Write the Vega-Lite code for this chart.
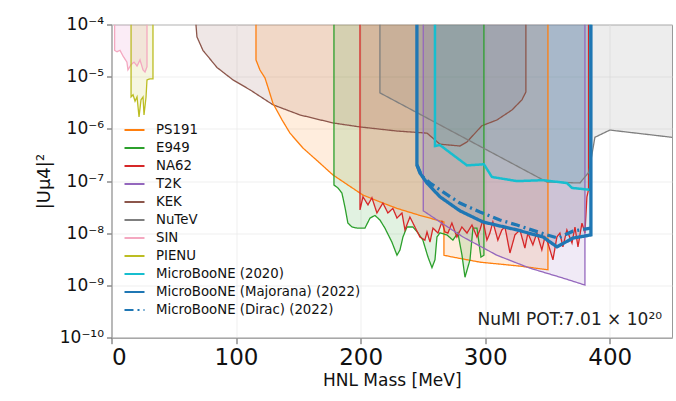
{
  "$schema": "https://vega.github.io/schema/vega-lite/v6.json",
  "width": 560.5,
  "height": 313.2,
  "autosize": {"type": "none"},
  "padding": {"left": 111.5, "top": 24.5, "right": 4, "bottom": 63.3},
  "background": "white",
  "config": {
    "font": "DejaVu Sans",
    "view": {"stroke": "#999999", "strokeWidth": 1},
    "axis": {"domainColor": "#999999", "tickColor": "#555555", "gridColor": "#ebebeb", "gridWidth": 0.8, "labelColor": "#111111", "titleColor": "#111111", "labelFont": "DejaVu Sans", "titleFont": "DejaVu Sans", "titleFontWeight": "normal"}
  },
  "datasets": {"curves": [
    {"exp":"SIN","i":0,"m":2.5,"u":1e-4},{"exp":"SIN","i":1,"m":2.5,"u":3.2e-5},{"exp":"SIN","i":2,"m":4.4,"u":3.0e-5},{"exp":"SIN","i":3,"m":6.8,"u":3.2e-5},{"exp":"SIN","i":4,"m":9.2,"u":2.5e-5},{"exp":"SIN","i":5,"m":12.4,"u":1.9e-5},{"exp":"SIN","i":6,"m":13.2,"u":1.35e-5},{"exp":"SIN","i":7,"m":15.7,"u":1.7e-5},{"exp":"SIN","i":8,"m":18.1,"u":1.9e-5},{"exp":"SIN","i":9,"m":20.5,"u":1.6e-5},{"exp":"SIN","i":10,"m":22.9,"u":2.1e-5},{"exp":"SIN","i":11,"m":25.3,"u":1.35e-5},{"exp":"SIN","i":12,"m":26.9,"u":1.23e-5},{"exp":"SIN","i":13,"m":28.5,"u":1.55e-5},{"exp":"SIN","i":14,"m":28.5,"u":1e-4},
    {"exp":"PIENU","i":0,"m":15.7,"u":1e-4},{"exp":"PIENU","i":1,"m":15.7,"u":4.1e-6},{"exp":"PIENU","i":2,"m":17.3,"u":4.5e-6},{"exp":"PIENU","i":3,"m":18.9,"u":3.4e-6},{"exp":"PIENU","i":4,"m":20.5,"u":4.1e-6},{"exp":"PIENU","i":5,"m":22.1,"u":1.7e-6},{"exp":"PIENU","i":6,"m":23.7,"u":3.6e-6},{"exp":"PIENU","i":7,"m":25.3,"u":4.1e-6},{"exp":"PIENU","i":8,"m":26.1,"u":1.85e-6},{"exp":"PIENU","i":9,"m":27.7,"u":4.0e-6},{"exp":"PIENU","i":10,"m":28.5,"u":8.7e-6},{"exp":"PIENU","i":11,"m":30.9,"u":9.1e-6},{"exp":"PIENU","i":12,"m":33.3,"u":9.1e-6},{"exp":"PIENU","i":13,"m":33.3,"u":1e-4},
    {"exp":"KEK","i":0,"m":67.8,"u":1e-4},{"exp":"KEK","i":1,"m":68.6,"u":5.8e-5},{"exp":"KEK","i":2,"m":73.4,"u":3.2e-5},{"exp":"KEK","i":3,"m":84.7,"u":1.5e-5},{"exp":"KEK","i":4,"m":97.5,"u":8.7e-6},{"exp":"KEK","i":5,"m":111.2,"u":5.6e-6},{"exp":"KEK","i":6,"m":129.6,"u":2.9e-6},{"exp":"KEK","i":7,"m":151.3,"u":1.85e-6},{"exp":"KEK","i":8,"m":177.8,"u":1.3e-6},{"exp":"KEK","i":9,"m":199.5,"u":1.09e-6},{"exp":"KEK","i":10,"m":229.2,"u":9.1e-7},{"exp":"KEK","i":11,"m":253.3,"u":8.3e-7},{"exp":"KEK","i":12,"m":263.7,"u":5.1e-7},{"exp":"KEK","i":13,"m":279.7,"u":4.7e-7},{"exp":"KEK","i":14,"m":285.3,"u":5.6e-7},{"exp":"KEK","i":15,"m":297.4,"u":1.15e-6},{"exp":"KEK","i":16,"m":309.4,"u":1.48e-6},{"exp":"KEK","i":17,"m":321.5,"u":2.3e-6},{"exp":"KEK","i":18,"m":329.5,"u":3.6e-6},{"exp":"KEK","i":19,"m":332.7,"u":5.1e-6},{"exp":"KEK","i":20,"m":332.7,"u":1e-4},
    {"exp":"PS191","i":0,"m":116,"u":1e-4},{"exp":"PS191","i":1,"m":116,"u":2.1e-5},{"exp":"PS191","i":2,"m":119.2,"u":1.34e-5},{"exp":"PS191","i":3,"m":123.2,"u":9.5e-6},{"exp":"PS191","i":4,"m":125.6,"u":6.3e-6},{"exp":"PS191","i":5,"m":129.6,"u":3.1e-6},{"exp":"PS191","i":6,"m":136.9,"u":1.49e-6},{"exp":"PS191","i":7,"m":143.3,"u":8.3e-7},{"exp":"PS191","i":8,"m":153.7,"u":4.3e-7},{"exp":"PS191","i":9,"m":167.4,"u":2.2e-7},{"exp":"PS191","i":10,"m":177.8,"u":1.31e-7},{"exp":"PS191","i":11,"m":201.9,"u":5.4e-8},{"exp":"PS191","i":12,"m":215.5,"u":4.0e-8},{"exp":"PS191","i":13,"m":229.2,"u":3.0e-8},{"exp":"PS191","i":14,"m":247.6,"u":2.2e-8},{"exp":"PS191","i":15,"m":266.9,"u":1.65e-8},{"exp":"PS191","i":16,"m":266.9,"u":3.8e-9},{"exp":"PS191","i":17,"m":274.1,"u":3.5e-9},{"exp":"PS191","i":18,"m":295.8,"u":2.8e-9},{"exp":"PS191","i":19,"m":327.9,"u":2.35e-9},{"exp":"PS191","i":20,"m":350.4,"u":2.0e-9},{"exp":"PS191","i":21,"m":350.4,"u":1e-4},
    {"exp":"E949","i":0,"m":178.6,"u":1e-4},{"exp":"E949","i":1,"m":178.6,"u":8.4e-8},{"exp":"E949","i":2,"m":181.8,"u":7.4e-8},{"exp":"E949","i":3,"m":185.0,"u":5.9e-8},{"exp":"E949","i":4,"m":187.4,"u":3.2e-8},{"exp":"E949","i":5,"m":189.8,"u":1.57e-8},{"exp":"E949","i":6,"m":193.1,"u":1.32e-8},{"exp":"E949","i":7,"m":197.1,"u":1.26e-8},{"exp":"E949","i":8,"m":203.5,"u":1.26e-8},{"exp":"E949","i":9,"m":207.5,"u":1.95e-8},{"exp":"E949","i":10,"m":211.5,"u":2.2e-8},{"exp":"E949","i":11,"m":215.5,"u":1.8e-8},{"exp":"E949","i":12,"m":219.5,"u":1.26e-8},{"exp":"E949","i":13,"m":225.1,"u":6.8e-9},{"exp":"E949","i":14,"m":229.2,"u":3.8e-9},{"exp":"E949","i":15,"m":231.6,"u":4.8e-9},{"exp":"E949","i":16,"m":234.0,"u":8.5e-9},{"exp":"E949","i":17,"m":237.2,"u":1.32e-8},{"exp":"E949","i":18,"m":242.0,"u":1.32e-8},{"exp":"E949","i":19,"m":246.0,"u":1.02e-8},{"exp":"E949","i":20,"m":250.0,"u":7.4e-9},{"exp":"E949","i":21,"m":254.1,"u":3.5e-9},{"exp":"E949","i":22,"m":257.3,"u":2.2e-9},{"exp":"E949","i":23,"m":259.7,"u":3.1e-9},{"exp":"E949","i":24,"m":261.3,"u":8.5e-9},{"exp":"E949","i":25,"m":263.7,"u":1.02e-8},{"exp":"E949","i":26,"m":269.3,"u":9.3e-9},{"exp":"E949","i":27,"m":274.1,"u":7.4e-9},{"exp":"E949","i":28,"m":278.1,"u":1.02e-8},{"exp":"E949","i":29,"m":281.4,"u":3.8e-9},{"exp":"E949","i":30,"m":283.8,"u":1.44e-9},{"exp":"E949","i":31,"m":287.8,"u":3.1e-9},{"exp":"E949","i":32,"m":290.2,"u":1.26e-8},{"exp":"E949","i":33,"m":293.4,"u":1.26e-8},{"exp":"E949","i":34,"m":296.6,"u":3.5e-9},{"exp":"E949","i":35,"m":299.0,"u":3.8e-9},{"exp":"E949","i":36,"m":299.0,"u":1e-4},
    {"exp":"NA62","i":0,"m":199.5,"u":1e-4},{"exp":"NA62","i":1,"m":199.5,"u":2.8e-8},{"exp":"NA62","i":2,"m":201.9,"u":5.0e-8},{"exp":"NA62","i":3,"m":205.9,"u":3.5e-8},{"exp":"NA62","i":4,"m":209.1,"u":4.8e-8},{"exp":"NA62","i":5,"m":213.1,"u":2.45e-8},{"exp":"NA62","i":6,"m":217.9,"u":3.8e-8},{"exp":"NA62","i":7,"m":221.9,"u":2.45e-8},{"exp":"NA62","i":8,"m":225.9,"u":3.0e-8},{"exp":"NA62","i":9,"m":229.2,"u":1.96e-8},{"exp":"NA62","i":10,"m":233.2,"u":2.45e-8},{"exp":"NA62","i":11,"m":235.6,"u":1.16e-8},{"exp":"NA62","i":12,"m":239.6,"u":2.05e-8},{"exp":"NA62","i":13,"m":243.6,"u":1.32e-8},{"exp":"NA62","i":14,"m":247.6,"u":8.5e-9},{"exp":"NA62","i":15,"m":251.6,"u":7.4e-9},{"exp":"NA62","i":16,"m":253.3,"u":1.06e-8},{"exp":"NA62","i":17,"m":255.7,"u":6.8e-9},{"exp":"NA62","i":18,"m":258.1,"u":1.26e-8},{"exp":"NA62","i":19,"m":262.1,"u":1.01e-8},{"exp":"NA62","i":20,"m":265.3,"u":1.65e-8},{"exp":"NA62","i":21,"m":267.7,"u":1.06e-8},{"exp":"NA62","i":22,"m":270.1,"u":1.01e-8},{"exp":"NA62","i":23,"m":273.3,"u":1.57e-8},{"exp":"NA62","i":24,"m":277.3,"u":8.5e-9},{"exp":"NA62","i":25,"m":281.3,"u":1.32e-8},{"exp":"NA62","i":26,"m":285.4,"u":1.01e-8},{"exp":"NA62","i":27,"m":289.4,"u":1.44e-8},{"exp":"NA62","i":28,"m":293.4,"u":8.5e-9},{"exp":"NA62","i":29,"m":295.8,"u":1.16e-8},{"exp":"NA62","i":30,"m":298.2,"u":1.8e-8},{"exp":"NA62","i":31,"m":301.4,"u":7.4e-9},{"exp":"NA62","i":32,"m":303.8,"u":1.01e-8},{"exp":"NA62","i":33,"m":306.2,"u":1.65e-8},{"exp":"NA62","i":34,"m":310.2,"u":7.4e-9},{"exp":"NA62","i":35,"m":313.4,"u":1.16e-8},{"exp":"NA62","i":36,"m":315.9,"u":1.32e-8},{"exp":"NA62","i":37,"m":319.9,"u":4.2e-9},{"exp":"NA62","i":38,"m":323.9,"u":9.3e-9},{"exp":"NA62","i":39,"m":327.9,"u":1.16e-8},{"exp":"NA62","i":40,"m":331.9,"u":5.2e-9},{"exp":"NA62","i":41,"m":334.3,"u":1.01e-8},{"exp":"NA62","i":42,"m":338.3,"u":6.0e-9},{"exp":"NA62","i":43,"m":341.5,"u":1.01e-8},{"exp":"NA62","i":44,"m":345.5,"u":4.8e-9},{"exp":"NA62","i":45,"m":348.0,"u":8.5e-9},{"exp":"NA62","i":46,"m":350.4,"u":6.5e-9},{"exp":"NA62","i":47,"m":354.4,"u":3.1e-9},{"exp":"NA62","i":48,"m":357.6,"u":8.5e-9},{"exp":"NA62","i":49,"m":360.0,"u":1.01e-8},{"exp":"NA62","i":50,"m":362.4,"u":5.5e-9},{"exp":"NA62","i":51,"m":365.6,"u":1.16e-8},{"exp":"NA62","i":52,"m":369.7,"u":6.5e-9},{"exp":"NA62","i":53,"m":372.1,"u":1.32e-8},{"exp":"NA62","i":54,"m":374.5,"u":5.5e-9},{"exp":"NA62","i":55,"m":377.7,"u":1.57e-8},{"exp":"NA62","i":56,"m":380.1,"u":1.01e-8},{"exp":"NA62","i":57,"m":381.7,"u":5.0e-8},{"exp":"NA62","i":58,"m":383.0,"u":6.8e-8},{"exp":"NA62","i":59,"m":383.0,"u":1e-4},
    {"exp":"T2K","i":0,"m":250.3,"u":1e-4},{"exp":"T2K","i":1,"m":250.3,"u":2.7e-8},{"exp":"T2K","i":2,"m":263.7,"u":1.65e-8},{"exp":"T2K","i":3,"m":282.2,"u":8.5e-9},{"exp":"T2K","i":4,"m":309.4,"u":3.8e-9},{"exp":"T2K","i":5,"m":335.9,"u":2.15e-9},{"exp":"T2K","i":6,"m":362.4,"u":1.39e-9},{"exp":"T2K","i":7,"m":380.1,"u":1.02e-9},{"exp":"T2K","i":8,"m":380.1,"u":1e-4},
    {"exp":"NuTeV","i":0,"m":215.5,"u":1e-4},{"exp":"NuTeV","i":1,"m":215.5,"u":4.9e-6},{"exp":"NuTeV","i":2,"m":349.6,"u":9.6e-8},{"exp":"NuTeV","i":3,"m":376.1,"u":9.2e-8},{"exp":"NuTeV","i":4,"m":383.3,"u":1.49e-7},{"exp":"NuTeV","i":5,"m":388.1,"u":6.9e-7},{"exp":"NuTeV","i":6,"m":400.1,"u":9.5e-7},{"exp":"NuTeV","i":7,"m":450,"u":6.9e-7},
    {"exp":"MicroBooNE (2020)","i":0,"m":259.7,"u":1e-4},{"exp":"MicroBooNE (2020)","i":1,"m":259.7,"u":4.7e-7},{"exp":"MicroBooNE (2020)","i":2,"m":263.7,"u":4.9e-7},{"exp":"MicroBooNE (2020)","i":3,"m":285.4,"u":2.0e-7},{"exp":"MicroBooNE (2020)","i":4,"m":299.0,"u":2.1e-7},{"exp":"MicroBooNE (2020)","i":5,"m":305.4,"u":1.2e-7},{"exp":"MicroBooNE (2020)","i":6,"m":325.5,"u":1.0e-7},{"exp":"MicroBooNE (2020)","i":7,"m":346.4,"u":1.04e-7},{"exp":"MicroBooNE (2020)","i":8,"m":365.6,"u":9.2e-8},{"exp":"MicroBooNE (2020)","i":9,"m":369.7,"u":7.4e-8},{"exp":"MicroBooNE (2020)","i":10,"m":384.6,"u":6.8e-8},{"exp":"MicroBooNE (2020)","i":11,"m":384.6,"u":1e-4},
    {"exp":"MicroBooNE (Majorana) (2022)","i":0,"m":245.2,"u":1e-4},{"exp":"MicroBooNE (Majorana) (2022)","i":1,"m":245.2,"u":2.04e-7},{"exp":"MicroBooNE (Majorana) (2022)","i":2,"m":247.6,"u":1.43e-7},{"exp":"MicroBooNE (Majorana) (2022)","i":3,"m":253.3,"u":9.2e-8},{"exp":"MicroBooNE (Majorana) (2022)","i":4,"m":263.7,"u":5.0e-8},{"exp":"MicroBooNE (Majorana) (2022)","i":5,"m":279.7,"u":2.7e-8},{"exp":"MicroBooNE (Majorana) (2022)","i":6,"m":298.2,"u":1.65e-8},{"exp":"MicroBooNE (Majorana) (2022)","i":7,"m":325.5,"u":1.16e-8},{"exp":"MicroBooNE (Majorana) (2022)","i":8,"m":346.4,"u":8.5e-9},{"exp":"MicroBooNE (Majorana) (2022)","i":9,"m":357.6,"u":5.5e-9},{"exp":"MicroBooNE (Majorana) (2022)","i":10,"m":370.5,"u":8.1e-9},{"exp":"MicroBooNE (Majorana) (2022)","i":11,"m":384.9,"u":9.3e-9},{"exp":"MicroBooNE (Majorana) (2022)","i":12,"m":384.9,"u":1e-4},
    {"exp":"MicroBooNE (Dirac) (2022)","i":0,"m":245.2,"u":2.04e-7},{"exp":"MicroBooNE (Dirac) (2022)","i":1,"m":249.2,"u":1.25e-7},{"exp":"MicroBooNE (Dirac) (2022)","i":2,"m":255.7,"u":9.2e-8},{"exp":"MicroBooNE (Dirac) (2022)","i":3,"m":266.1,"u":6.2e-8},{"exp":"MicroBooNE (Dirac) (2022)","i":4,"m":279.7,"u":3.8e-8},{"exp":"MicroBooNE (Dirac) (2022)","i":5,"m":295.8,"u":2.56e-8},{"exp":"MicroBooNE (Dirac) (2022)","i":6,"m":311.8,"u":1.8e-8},{"exp":"MicroBooNE (Dirac) (2022)","i":7,"m":325.5,"u":1.44e-8},{"exp":"MicroBooNE (Dirac) (2022)","i":8,"m":349.6,"u":9.3e-9},{"exp":"MicroBooNE (Dirac) (2022)","i":9,"m":358.4,"u":8.1e-9},{"exp":"MicroBooNE (Dirac) (2022)","i":10,"m":370.5,"u":1.1e-8},{"exp":"MicroBooNE (Dirac) (2022)","i":11,"m":384.9,"u":1.26e-8}
  ],
  "note": [{"label": "NuMI POT:7.01 × 10²⁰", "m": 442, "u": 2.2e-10}]},
  "layer": [
    {
      "data": {"name": "curves"},
      "transform": [{"filter": "datum.exp !== 'MicroBooNE (Dirac) (2022)'"}],
      "mark": {"type": "area", "opacity": 0.14, "clip": true},
      "encoding": {
        "x": {"field": "m", "type": "quantitative", "scale": {"domain": [0, 450], "nice": false, "zero": false},
          "axis": {"title": "HNL Mass [MeV]", "values": [0, 100, 200, 300, 400], "format": "d", "labelFontSize": 23, "titleFontSize": 17, "tickSize": 6, "labelPadding": 3, "titlePadding": 3, "grid": true}},
        "y": {"field": "u", "type": "quantitative", "stack": null, "scale": {"type": "log", "domain": [1e-10, 1e-4], "nice": false},
          "axis": {"title": "|Uμ4|²", "values": [1e-10, 1e-9, 1e-8, 1e-7, 1e-6, 1e-5, 1e-4], "labelExpr": "'10' + ['⁻¹⁰','⁻⁹','⁻⁸','⁻⁷','⁻⁶','⁻⁵','⁻⁴'][round(log(datum.value)/LN10) + 10]", "labelFontSize": 17, "titleFontSize": 18, "tickSize": 5, "labelPadding": 3, "titlePadding": 6, "grid": true}},
        "y2": {"datum": 0.0001},
        "fill": {"field": "exp", "type": "nominal", "legend": null,
          "scale": {"domain": ["SIN","PIENU","KEK","PS191","E949","NA62","T2K","NuTeV","MicroBooNE (2020)","MicroBooNE (Majorana) (2022)"],
                    "range": ["#e377c2","#bcbd22","#8c564b","#ff7f0e","#2ca02c","#d62728","#9467bd","#7f7f7f","#17becf","#1f77b4"]}}
      }
    },
    {
      "data": {"name": "curves"},
      "transform": [{"filter": "indexof(datum.exp, 'MicroBooNE') < 0"}],
      "mark": {"type": "line", "strokeWidth": 1.3, "clip": true},
      "encoding": {
        "x": {"field": "m", "type": "quantitative"},
        "y": {"field": "u", "type": "quantitative"},
        "order": {"field": "i", "type": "quantitative"},
        "color": {"field": "exp", "type": "nominal",
          "scale": {"domain": ["PS191","E949","NA62","T2K","KEK","NuTeV","SIN","PIENU","MicroBooNE (2020)","MicroBooNE (Majorana) (2022)","MicroBooNE (Dirac) (2022)"],
                    "range": ["#ff7f0e","#2ca02c","#d62728","#9467bd","#8c564b","#7f7f7f","#f4a8c0","#bcbd22","#17becf","#1f77b4","#1f77b4"]},
          "legend": {"title": null, "orient": "none", "legendX": 11.5, "legendY": 94, "padding": 0, "symbolType": "stroke", "symbolSize": 400, "symbolStrokeWidth": 2.2, "labelFont": "DejaVu Sans", "labelFontSize": 13.3, "labelColor": "#111111", "labelLimit": 400, "labelOffset": 10, "rowPadding": 0}},
        "strokeDash": {"field": "exp", "type": "nominal",
          "scale": {"domain": ["PS191","E949","NA62","T2K","KEK","NuTeV","SIN","PIENU","MicroBooNE (2020)","MicroBooNE (Majorana) (2022)","MicroBooNE (Dirac) (2022)"],
                    "range": [[1,0],[1,0],[1,0],[1,0],[1,0],[1,0],[1,0],[1,0],[1,0],[1,0],[9,4,2,4]]},
          "legend": {"title": null, "orient": "none", "legendX": 11.5, "legendY": 94, "padding": 0, "symbolType": "stroke", "symbolSize": 400, "symbolStrokeWidth": 2.2, "labelFont": "DejaVu Sans", "labelFontSize": 13.3, "labelColor": "#111111", "labelLimit": 400, "labelOffset": 10, "rowPadding": 0}}
      }
    },
    {
      "data": {"name": "curves"},
      "transform": [{"filter": "indexof(datum.exp, 'MicroBooNE') >= 0"}],
      "mark": {"type": "line", "clip": true},
      "encoding": {
        "x": {"field": "m", "type": "quantitative"},
        "y": {"field": "u", "type": "quantitative"},
        "order": {"field": "i", "type": "quantitative"},
        "color": {"field": "exp", "type": "nominal"},
        "strokeDash": {"field": "exp", "type": "nominal"},
        "strokeWidth": {"condition": {"test": "datum.exp === 'MicroBooNE (2020)'", "value": 2.5}, "value": 3.3}
      }
    },
    {
      "data": {"name": "note"},
      "mark": {"type": "text", "align": "right", "baseline": "middle", "fontSize": 17, "font": "DejaVu Sans", "color": "#222222"},
      "encoding": {"x": {"field": "m", "type": "quantitative"}, "y": {"field": "u", "type": "quantitative"}, "text": {"field": "label"}}
    }
  ]
}
